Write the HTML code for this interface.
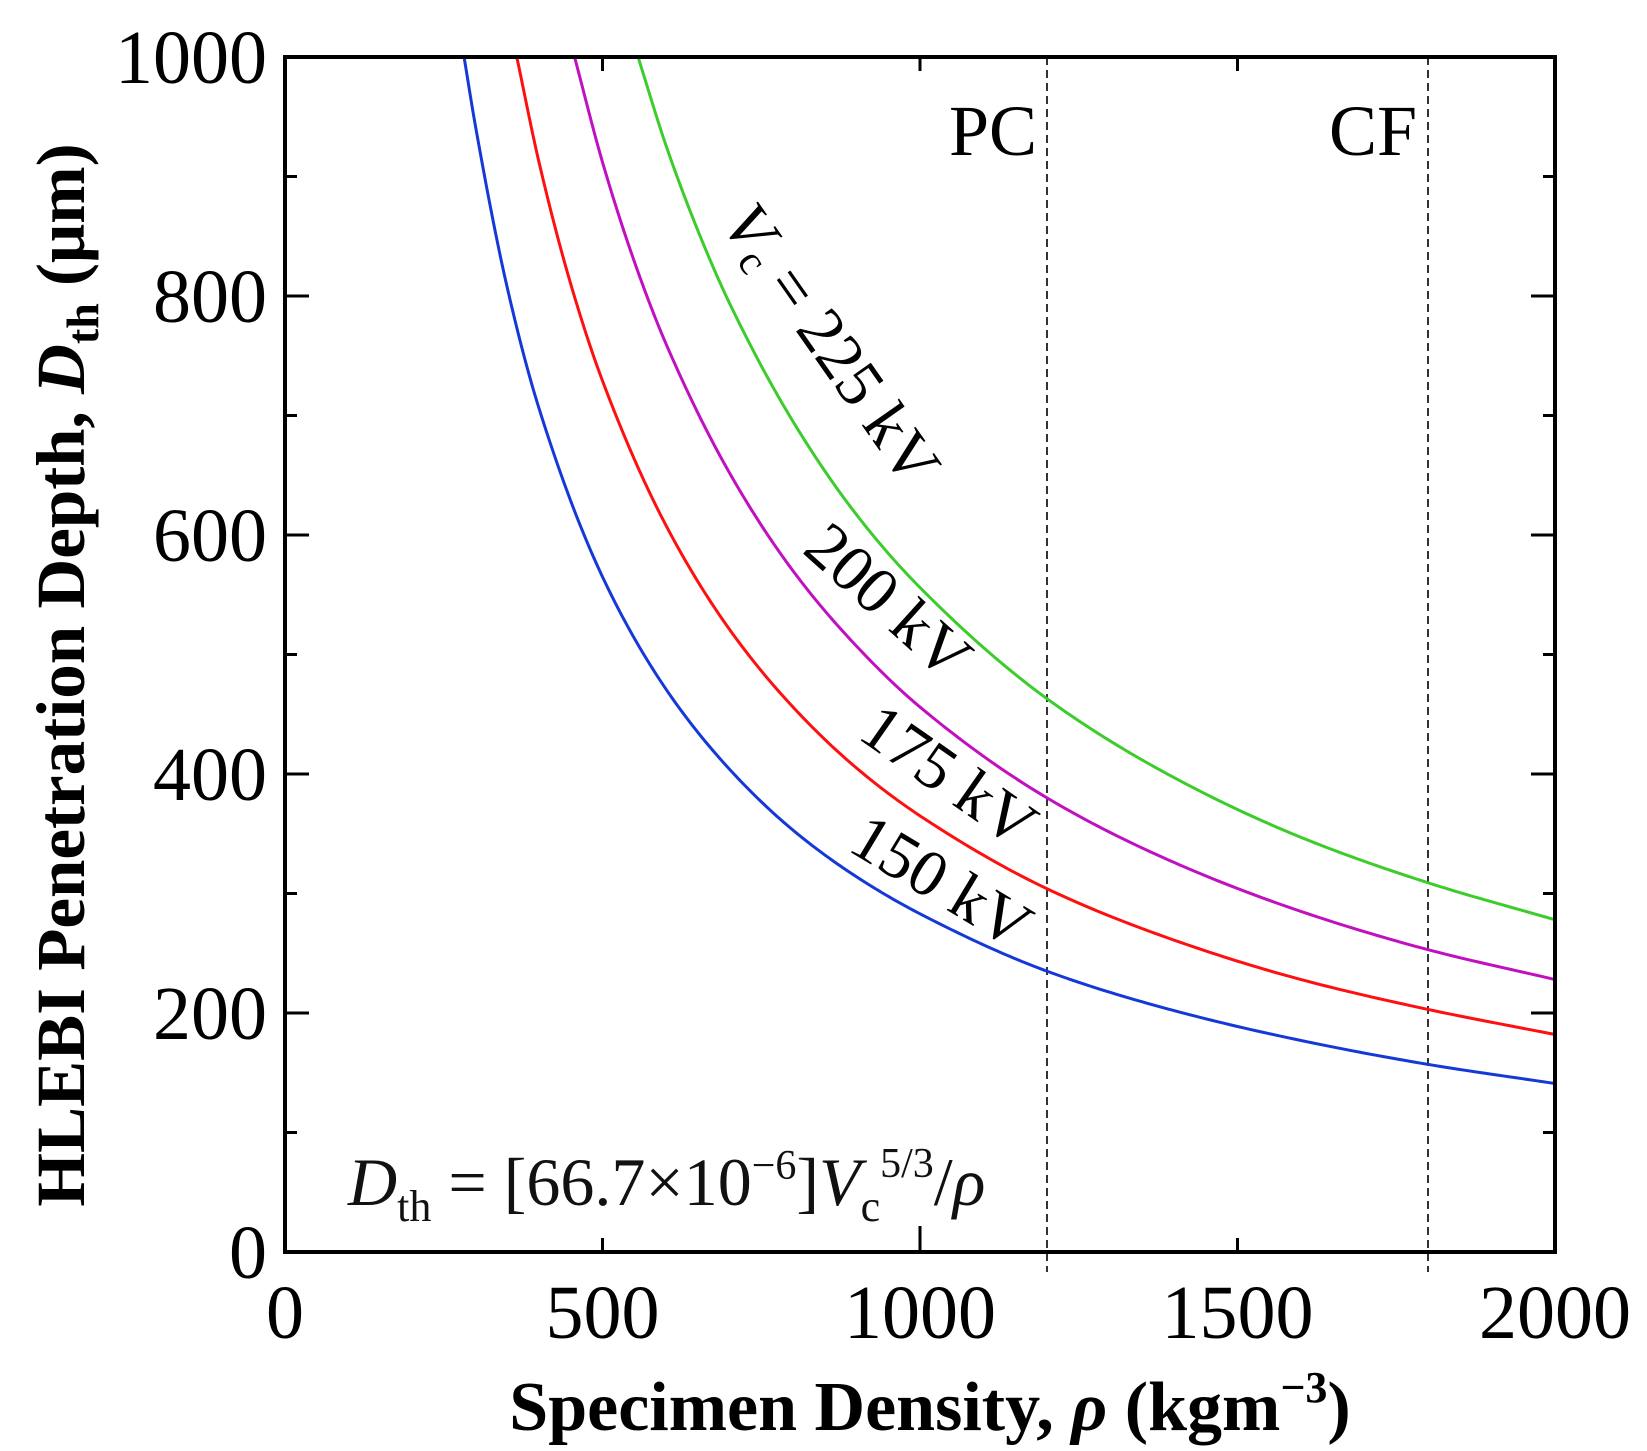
<!DOCTYPE html>
<html><head><meta charset="utf-8"><style>
html,body{margin:0;padding:0;background:#fff;}
svg{display:block;font-family:"Liberation Serif","DejaVu Serif",serif;}
</style></head><body>
<svg id="chart" width="1647" height="1451" viewBox="0 0 1647 1451">
<g id="grid"></g>
<g id="curves"></g>
<g id="axes"></g>
<text x="993" y="155" font-size="72" text-anchor="middle">PC</text>
<text x="1373" y="155" font-size="72" text-anchor="middle">CF</text>
<text transform="translate(826,348) rotate(55)" font-size="66" text-anchor="middle" dominant-baseline="middle"><tspan font-style="italic">V</tspan><tspan font-size="42" dy="14">c</tspan><tspan dy="-14"> = 225 kV</tspan></text>
<text transform="translate(884,606) rotate(42)" font-size="66" text-anchor="middle" dominant-baseline="middle">200 kV</text>
<text transform="translate(945,781) rotate(35)" font-size="66" text-anchor="middle" dominant-baseline="middle">175 kV</text>
<text transform="translate(938,887) rotate(31)" font-size="66" text-anchor="middle" dominant-baseline="middle">150 kV</text>
<text x="348" y="1205" font-size="68" fill="#111"><tspan font-style="italic">D</tspan><tspan font-size="44" dy="16">th</tspan><tspan dy="-16"> = [66.7×10</tspan><tspan font-size="42" dy="-26">−6</tspan><tspan dy="26">]</tspan><tspan font-style="italic">V</tspan><tspan font-size="44" dy="16">c</tspan><tspan font-size="42" dy="-44">5/3</tspan><tspan dy="28">/</tspan><tspan font-style="italic">ρ</tspan></text>
<text x="930" y="1430" font-size="70" font-weight="bold" text-anchor="middle">Specimen Density, <tspan font-style="italic">ρ</tspan> (kgm<tspan font-size="44" dy="-28">−3</tspan><tspan dy="28">)</tspan></text>
<text transform="translate(84,675) rotate(-90)" font-size="69" font-weight="bold" text-anchor="middle">HLEBI Penetration Depth, <tspan font-style="italic">D</tspan><tspan font-size="46" dy="14">th</tspan><tspan dy="-14"> (μm)</tspan></text>
</svg>
<script>
const xTicks = [0, 500, 1000, 1500, 2000];
const yTicks = [0, 200, 400, 600, 800, 1000];
const refLines = [1200, 1800];
const rho150 = [282, 300, 350, 400, 500, 600, 700, 800, 900, 1000, 1200, 1400, 1600, 1800, 2000];
const d150 = [1000, 942, 807, 706, 565, 471, 404, 353, 314, 283, 235, 202, 177, 157, 141];
const rho175 = [365, 400, 450, 500, 600, 700, 800, 900, 1000, 1200, 1400, 1600, 1800, 2000];
const d175 = [1000, 912, 810, 729, 608, 521, 456, 405, 365, 304, 261, 228, 203, 182];
const rho200 = [456, 500, 550, 600, 700, 800, 900, 1000, 1200, 1400, 1600, 1800, 2000];
const d200 = [1000, 912, 829, 760, 652, 570, 507, 456, 380, 326, 285, 253, 228];
const rho225 = [556, 600, 650, 700, 800, 900, 1000, 1200, 1400, 1600, 1800, 2000];
const d225 = [1000, 926, 855, 794, 695, 617, 556, 463, 397, 347, 309, 278];

const L = 285, R = 1555, T = 57, B = 1252;
const xs = v => L + (v / 2000) * (R - L);
const ys = v => B - (v / 1000) * (B - T);
const NS = "http://www.w3.org/2000/svg";
function mk(tag, attrs, parent) {
  const e = document.createElementNS(NS, tag);
  for (const k in attrs) e.setAttribute(k, attrs[k]);
  parent.appendChild(e);
  return e;
}
const grid = document.getElementById('grid');
refLines.forEach(v => {
  const l = mk('line', {x1: xs(v), x2: xs(v), y1: T, y2: B + 20, stroke: '#000', 'stroke-width': 1.6, 'stroke-dasharray': '8,5'}, grid);
  
  
});

// monotone cubic (Fritsch-Carlson) in data space, sampled densely
function smoothPath(px, py) {
  const n = px.length, h = [], dl = [], m = new Array(n);
  for (let i = 0; i < n - 1; i++) { h[i] = px[i + 1] - px[i]; dl[i] = (py[i + 1] - py[i]) / h[i]; }
  m[0] = dl[0]; m[n - 1] = dl[n - 2];
  for (let i = 1; i < n - 1; i++) {
    if (dl[i - 1] * dl[i] <= 0) m[i] = 0;
    else { const w1 = 2 * h[i] + h[i - 1], w2 = h[i] + 2 * h[i - 1]; m[i] = (w1 + w2) / (w1 / dl[i - 1] + w2 / dl[i]); }
  }
  let d = 'M' + xs(px[0]).toFixed(2) + ',' + ys(py[0]).toFixed(2);
  for (let i = 0; i < n - 1; i++) {
    for (let s = 1; s <= 20; s++) {
      const t = s / 20, t2 = t * t, t3 = t2 * t;
      const y = (2 * t3 - 3 * t2 + 1) * py[i] + (t3 - 2 * t2 + t) * h[i] * m[i] + (-2 * t3 + 3 * t2) * py[i + 1] + (t3 - t2) * h[i] * m[i + 1];
      d += 'L' + xs(px[i] + t * h[i]).toFixed(2) + ',' + ys(y).toFixed(2);
    }
  }
  return d;
}
const curves = document.getElementById('curves');
[[rho150, d150, '#1538d8', 'curve-150kv'], [rho175, d175, '#ff1010', 'curve-175kv'],
 [rho200, d200, '#c010c0', 'curve-200kv'], [rho225, d225, '#3ccc2c', 'curve-225kv']].forEach(s => {
  const p = mk('path', {d: smoothPath(s[0], s[1]), fill: 'none', stroke: s[2], 'stroke-width': 3, 'stroke-linejoin': 'round'}, curves);
  
  
});

const axes = document.getElementById('axes');
const frame = mk('rect', {x: L, y: T, width: R - L, height: B - T, fill: 'none', stroke: '#000', 'stroke-width': 4}, axes);


xTicks.forEach(v => {
  const len = v === 1000 ? 26 : 14;
  if (v > 0 && v < 2000) {
    const t = mk('line', {x1: xs(v), x2: xs(v), y1: B, y2: B - len, stroke: '#000', 'stroke-width': 3}, axes);
    
    
    const t2 = mk('line', {x1: xs(v), x2: xs(v), y1: T, y2: T + 14, stroke: '#000', 'stroke-width': 3}, axes);
    
    
  }
  const lb = mk('text', {x: xs(v), y: B + 86, 'font-size': 76, 'text-anchor': 'middle'}, axes);
  lb.textContent = v;
  
  
});
for (let v = 100; v < 1000; v += 100) {
  const len = v % 200 === 0 ? 24 : 12;
  const a = mk('line', {x1: L, x2: L + len, y1: ys(v), y2: ys(v), stroke: '#000', 'stroke-width': 3}, axes);
  
  
  const b = mk('line', {x1: R, x2: R - len, y1: ys(v), y2: ys(v), stroke: '#000', 'stroke-width': 3}, axes);
  
  
}
yTicks.forEach(v => {
  const lb = mk('text', {x: L - 18, y: ys(v) + 26, 'font-size': 76, 'text-anchor': 'end'}, axes);
  lb.textContent = v;
  
  
});
</script>
</body></html>
